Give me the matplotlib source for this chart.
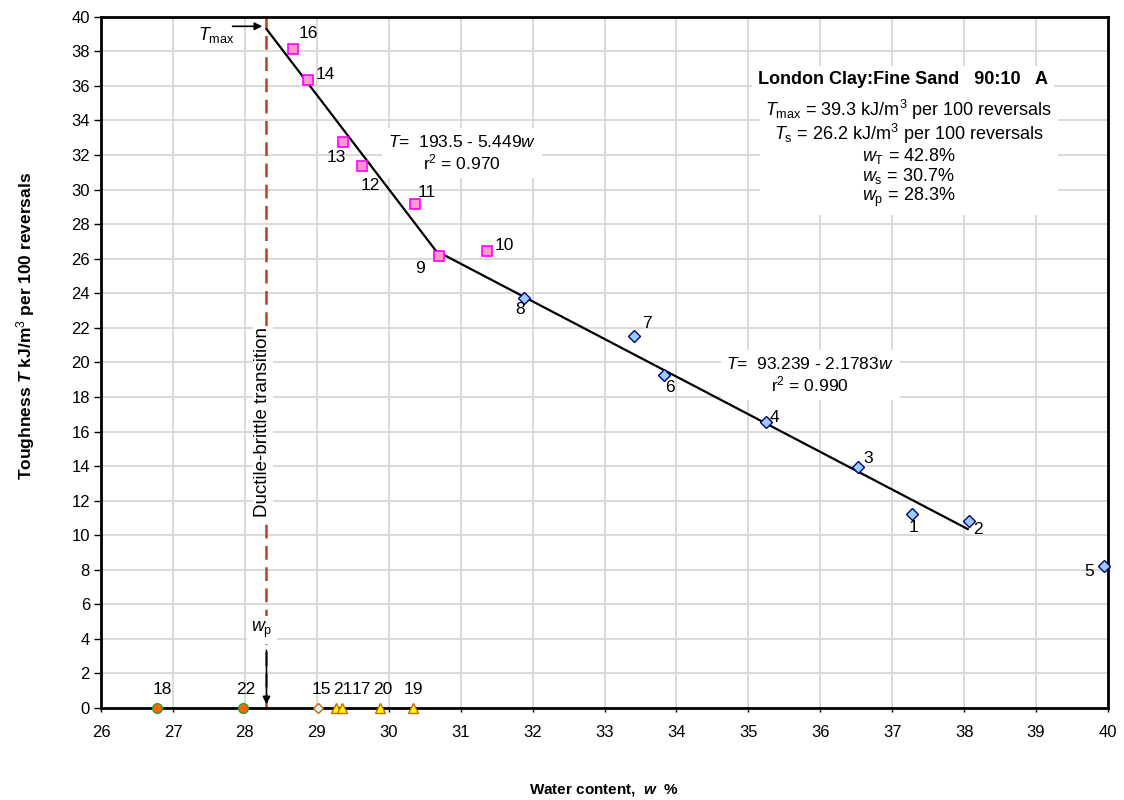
import matplotlib.pyplot as plt

plt.rcParams['font.family'] = ['Liberation Sans', 'DejaVu Sans']
plt.rcParams['mathtext.fontset'] = 'custom'
plt.rcParams['mathtext.rm'] = 'Liberation Sans'
plt.rcParams['mathtext.it'] = 'Liberation Sans:italic'
plt.rcParams['mathtext.bf'] = 'Liberation Sans:bold'
plt.rcParams['mathtext.bfit'] = 'Liberation Sans:bold:italic'

# brittle side (pink squares)
brittle_id = [16, 14, 13, 12, 11, 10, 9]
brittle_w = [28.67, 28.88, 29.37, 29.63, 30.37, 31.37, 30.70]
brittle_T = [38.15, 36.35, 32.76, 31.37, 29.18, 26.45, 26.16]

# ductile side (blue diamonds)
ductile_id = [8, 7, 6, 4, 3, 1, 2, 5]
ductile_w = [31.88, 33.41, 33.83, 35.24, 36.53, 37.27, 38.07, 39.95]
ductile_T = [23.73, 21.53, 19.28, 16.56, 13.95, 11.23, 10.82, 8.22]

# zero toughness points
circ_id = [18, 22]
circ_w = [26.78, 27.97]
diam0_id = [15]
diam0_w = [29.02]
tri_id = [21, 17, 20, 19]
tri_w = [29.27, 29.35, 29.88, 30.34]

# regression lines T = a - b*w
a1, b1 = 193.5, 5.449
a2, b2 = 93.239, 2.1783
w_p = 28.3
w_end = 38.05
T_max = 39.3

# label offsets in points
offsets = {16: (11, 11), 14: (12, 4), 13: (-5, -11), 12: (6, -14), 11: (8, 8),
           10: (12, 4), 9: (-14, -9), 8: (-3, -8), 7: (9, 9), 6: (4, -9),
           4: (6, 3), 3: (7, 6), 1: (1, -10), 2: (6, -6), 5: (-11, -4),
           18: (4, 13), 22: (2, 13), 15: (2, 13), 21: (5, 13), 17: (14, 13),
           20: (2, 13), 19: (0, 13)}

fig = plt.figure(figsize=(11.24, 8), dpi=100)
ax = fig.add_axes([0.0899, 0.115, 0.8959, 0.864])

ax.set_xlim(26, 40)
ax.set_ylim(0, 40)
ax.set_xticks(range(26, 41))
ax.set_yticks(range(0, 41, 2))
ax.grid(True, color='#d4d4d4', linewidth=1.2, zorder=0)
for s in ax.spines.values():
    s.set_linewidth(2)
    s.set_color('black')
ax.tick_params(labelsize=12, direction='out', width=1)
ax.tick_params(axis='x', length=3, pad=9)
ax.tick_params(axis='y', length=5, pad=3)

# ductile-brittle transition
ax.axvline(w_p, color='#b5451b', linestyle=(0, (5.5, 3)), linewidth=1.8, zorder=2)
ax.text(28.25, 16.55, 'Ductile-brittle transition', rotation=90, fontsize=13.5,
        ha='center', va='center', zorder=3,
        bbox=dict(facecolor='white', edgecolor='none', pad=1))

# fitted lines
w_k = (a1 - a2) / (b1 - b2)
ax.plot([w_p, w_k], [a1 - b1 * w_p, a1 - b1 * w_k], color='black', lw=1.6, zorder=4)
ax.plot([w_k, w_end], [a2 - b2 * w_k, a2 - b2 * w_end], color='black', lw=1.6, zorder=4)

# markers
ax.plot(brittle_w, brittle_T, 's', ms=7, mfc='#ff99cc', mec='#ff00ff', mew=1.2,
        ls='none', zorder=5, clip_on=False)
ax.plot(ductile_w, ductile_T, 'D', ms=6, mfc='#99ccff', mec='#000080', mew=1,
        ls='none', zorder=5, clip_on=False)
ax.plot(circ_w, [0] * len(circ_w), 'o', ms=7, mfc='#ff6600', mec='#339933',
        mew=1, ls='none', zorder=6, clip_on=False)
ax.plot(diam0_w, [0] * len(diam0_w), 'D', ms=5, mfc='#ccffff', mec='#cc6600',
        mew=1, ls='none', zorder=6, clip_on=False)
ax.plot(tri_w, [0] * len(tri_w), '^', ms=7, mfc='#ffff00', mec='#cc6600',
        mew=1, ls='none', zorder=6, clip_on=False)

for ids, ws, Ts in [(brittle_id, brittle_w, brittle_T),
                    (ductile_id, ductile_w, ductile_T),
                    (circ_id, circ_w, [0] * 2),
                    (diam0_id, diam0_w, [0]),
                    (tri_id, tri_w, [0] * 4)]:
    for i, w, t in zip(ids, ws, Ts):
        ax.annotate(str(i), (w, t), xytext=offsets[i], textcoords='offset points',
                    ha='center', va='center', fontsize=12.5, zorder=7)

# T_max arrow
ax.annotate('', xy=(w_p - 0.02, 39.45), xytext=(27.79, 39.45),
            arrowprops=dict(arrowstyle='-|>', color='black', lw=1.2, mutation_scale=11))
ax.text(27.6, 38.95, r'$\mathit{T}_{\mathrm{max}}$', fontsize=13, ha='center', va='center')

# w_p arrow
ax.annotate('', xy=(w_p, 0.05), xytext=(w_p, 3.5),
            arrowprops=dict(arrowstyle='-|>', color='black', lw=1.2, mutation_scale=11),
            zorder=4)
ax.text(28.24, 4.5, r'$\mathit{w}_{\mathrm{p}}$', fontsize=13, ha='center', va='center',
        zorder=5, bbox=dict(facecolor='white', edgecolor='none', pad=3))

# regression equations
ax.text(31.02, 32.13, r'$\mathit{T}$=  193.5 - 5.449$\mathit{w}$' + '\n' + r'r$^2$ = 0.970',
        fontsize=12.5, ha='center', va='center', linespacing=1.15, zorder=3,
        bbox=dict(facecolor='white', edgecolor='none', pad=4))
ax.text(35.86, 19.28, r'$\mathit{T}$=  93.239 - 2.1783$\mathit{w}$' + '\n' + r'r$^2$ = 0.990',
        fontsize=12.5, ha='center', va='center', linespacing=1.15, zorder=3,
        bbox=dict(facecolor='white', edgecolor='none', pad=4))

# info box
ax.text(37.15, 36.35, 'London Clay:Fine Sand   90:10   A', fontsize=13, fontweight='bold',
        ha='center', va='center', zorder=3,
        bbox=dict(facecolor='white', edgecolor='none', pad=4))
info = (r'$\mathit{T}_{\mathrm{max}}$ = 39.3 kJ/m$^3$ per 100 reversals' + '\n' +
        r'$\mathit{T}_{\mathrm{s}}$ = 26.2 kJ/m$^3$ per 100 reversals' + '\n' +
        r'$\mathit{w}_{\mathrm{T}}$ = 42.8%' + '\n' +
        r'$\mathit{w}_{\mathrm{s}}$ = 30.7%' + '\n' +
        r'$\mathit{w}_{\mathrm{p}}$ = 28.3%')
ax.text(37.23, 32.1, info, fontsize=13, ha='center', va='center', linespacing=1.0,
        zorder=3, bbox=dict(facecolor='white', edgecolor='none', pad=4))

fig.text(604 / 1124, 1 - 790 / 800, r'Water content,  $\mathbfit{w}$  %', fontsize=11,
         fontweight='bold', ha='center', va='center')
fig.text(26 / 1124, 1 - 326 / 800, r'Toughness $\mathbfit{T}$ kJ/m$^3$ per 100 reversals',
         fontsize=12.5, fontweight='bold', rotation=90, ha='center', va='center')

fig.savefig('out.png', dpi=100)
